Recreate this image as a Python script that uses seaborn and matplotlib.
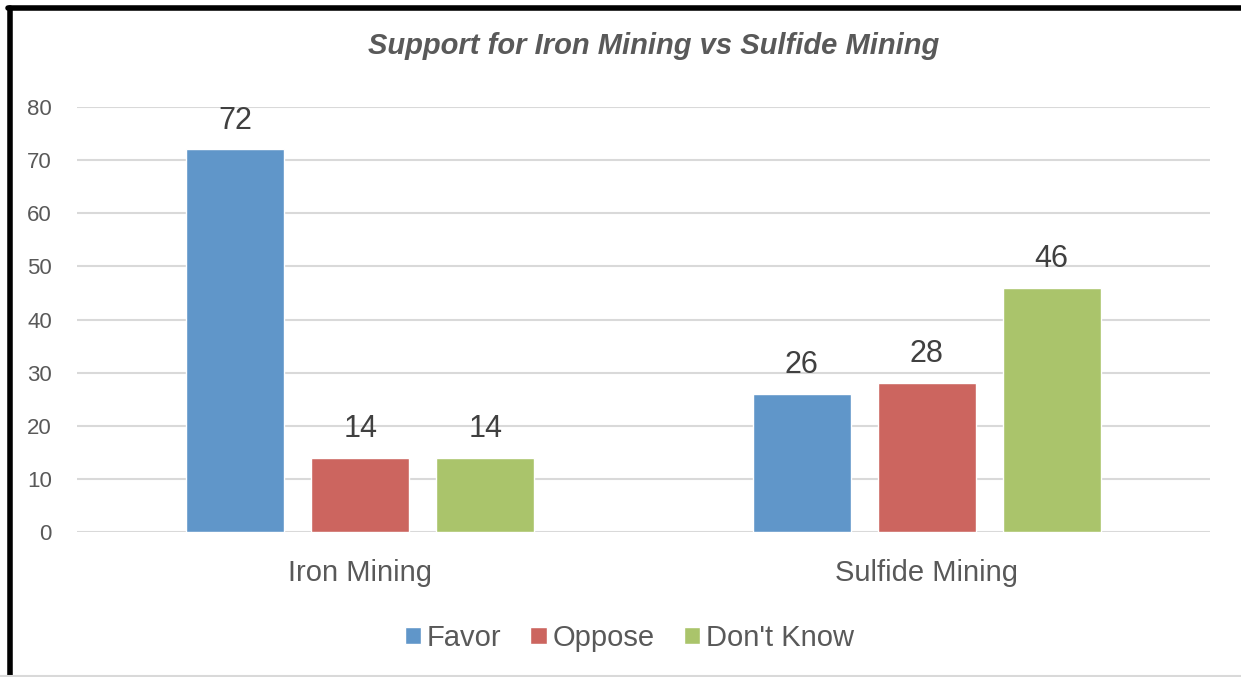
import matplotlib.pyplot as plt
import seaborn as sns
import pandas as pd
from matplotlib.lines import Line2D

# chart values
categories = ['Iron Mining', 'Sulfide Mining']
responses = ['Favor', 'Oppose', "Don't Know"]
favor = [72, 26]
oppose = [14, 28]
dont_know = [14, 46]
colors = ['#6096C9', '#CC655F', '#AAC46B']

df = pd.DataFrame({
    'Category': categories * 3,
    'Response': [r for r in responses for _ in categories],
    'Value': favor + oppose + dont_know,
})

sns.set_theme(style="white")
plt.rcParams['font.family'] = ['Liberation Sans', 'DejaVu Sans']

fig = plt.figure(figsize=(12.41, 6.77), dpi=100)
ax = fig.add_axes([0.062, 0.214, 0.913, 0.628])

sns.barplot(data=df, x='Category', y='Value', hue='Response', palette=colors,
            width=0.662, gap=0.216, ax=ax, saturation=1)

ax.set_ylim(0, 80)
ax.set_yticks(range(0, 81, 10))
ax.yaxis.grid(True, color='#D9D9D9', linewidth=1.5)
ax.set_axisbelow(True)
for s in ax.spines.values():
    s.set_visible(False)
ax.set_xlabel('')
ax.set_ylabel('')
ax.tick_params(axis='y', labelsize=16, labelcolor='#595959', length=0, pad=18)
ax.tick_params(axis='x', labelsize=21, labelcolor='#595959', length=0, pad=19)

for cont in ax.containers:
    ax.bar_label(cont, fontsize=22, color='#404040', padding=10)

ax.set_title('Support for Iron Mining vs Sulfide Mining', fontsize=21,
             fontweight='bold', fontstyle='italic', color='#595959', pad=38,
             x=0.509)

handles, labels = ax.get_legend_handles_labels()
ax.legend(handles, labels, loc='center', bbox_to_anchor=(0.507, 0.058),
          bbox_transform=fig.transFigure, ncol=3, frameon=False, fontsize=21,
          handlelength=0.55, handleheight=0.55, handletextpad=0.2,
          columnspacing=1.0, labelcolor='#595959')

# frame around the chart
fig.add_artist(Line2D([9.5 / 1241, 9.5 / 1241], [0, 1 - 8 / 677], color='black',
                      linewidth=4, transform=fig.transFigure))
fig.add_artist(Line2D([7.5 / 1241, 1], [1 - 8 / 677, 1 - 8 / 677], color='black',
                      linewidth=4, transform=fig.transFigure))
fig.add_artist(Line2D([0, 1], [1.5 / 677, 1.5 / 677], color='#D9D9D9',
                      linewidth=1.5, transform=fig.transFigure))

fig.savefig('out.png', dpi=100)
